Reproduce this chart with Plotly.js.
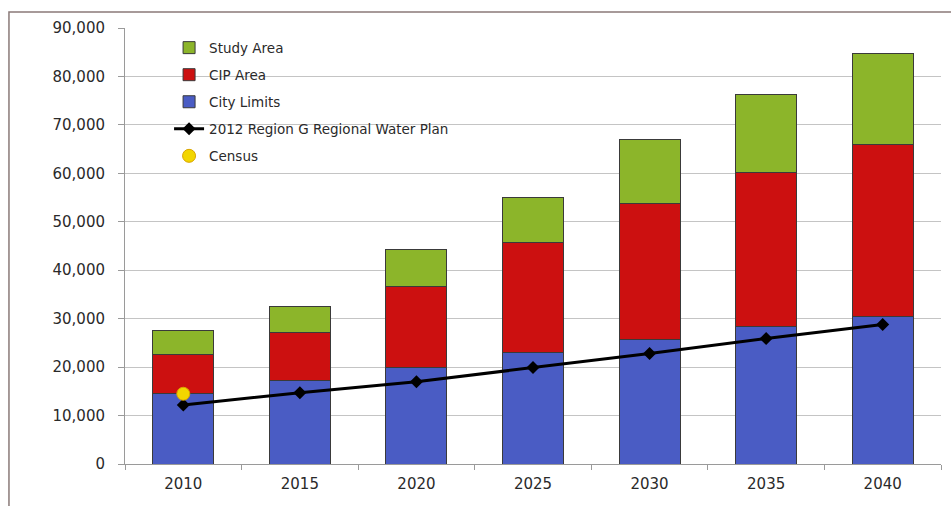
<!DOCTYPE html>
<html>
<head>
<meta charset="utf-8">
<script src="https://cdn.plot.ly/plotly-3.0.1.min.js"></script>
<style>html,body{margin:0;padding:0;background:#fff;}#chart{width:951px;height:506px;}</style>
</head>
<body>
<div id="chart"></div>
<script>
const years = ["2010", "2015", "2020", "2025", "2030", "2035", "2040"];
const cityLimits = [14500, 17200, 19900, 23000, 25700, 28400, 30450];
const cipArea = [8100, 9900, 16750, 22750, 28100, 31850, 35600];
const studyArea = [4950, 5400, 7650, 9300, 13100, 15950, 18650];
const regionGPlan = [12200, 14700, 17000, 19900, 22800, 25900, 28800];
const censusYears = ["2010"];
const censusValues = [14500];
const yTickVals = [0, 10000, 20000, 30000, 40000, 50000, 60000, 70000, 80000, 90000];

const font = "DejaVu Sans, Verdana, sans-serif";
const barLine = {color: "#3a3a3a", width: 1};

const traces = [
  {type: "bar", name: "City Limits", x: years, y: cityLimits, legendrank: 3, legendgroup: "c",
   marker: {color: "#4a5cc4", line: barLine}},
  {type: "bar", name: "CIP Area", x: years, y: cipArea, legendrank: 2, legendgroup: "b",
   marker: {color: "#cc1010", line: barLine}},
  {type: "bar", name: "Study Area", x: years, y: studyArea, legendrank: 1, legendgroup: "a",
   marker: {color: "#8cb52a", line: barLine}},
  {type: "scatter", mode: "lines+markers", name: "2012 Region G Regional Water Plan", x: years, y: regionGPlan,
   legendrank: 4, legendgroup: "d",
   line: {color: "#000", width: 3}, marker: {symbol: "diamond", size: 10, color: "#000"}},
  {type: "scatter", mode: "markers", name: "Census", x: censusYears, y: censusValues,
   legendrank: 5, legendgroup: "e",
   marker: {symbol: "circle", size: 13, color: "#f2d600", line: {color: "#d9a400", width: 1}}}
];

const layout = {
  width: 951, height: 506,
  margin: {l: 125, r: 10, t: 28, b: 42},
  paper_bgcolor: "#fff", plot_bgcolor: "#fff",
  barmode: "stack", bargap: 0.477,
  showlegend: true,
  legend: {x: 0.054, xanchor: "left", y: 0.99, yanchor: "top", traceorder: "grouped",
           tracegroupgap: 6.5, bgcolor: "rgba(0,0,0,0)",
           font: {family: font, size: 13.5, color: "#2a2a2a"}},
  font: {family: font, color: "#2a2a2a"},
  xaxis: {type: "category", showline: true, linecolor: "#9a9a9a", linewidth: 1,
          ticks: "outside", tickson: "boundaries", ticklen: 5, tickcolor: "#9a9a9a",
          ticklabelstandoff: 6,
          tickfont: {family: font, size: 15, color: "#2a2a2a"}, showgrid: false, fixedrange: true},
  yaxis: {range: [0, 90000], tickvals: yTickVals, tickformat: ",d",
          showline: true, linecolor: "#9a9a9a", linewidth: 1,
          ticks: "outside", ticklen: 6, tickcolor: "#9a9a9a",
          ticklabelstandoff: 10,
          showgrid: true, gridcolor: "#c4c4c4", gridwidth: 1, zeroline: false,
          tickfont: {family: font, size: 15, color: "#2a2a2a"}, fixedrange: true},
  shapes: [
    {type: "rect", xref: "paper", yref: "paper", x0: -0.1422, x1: 1.2, y0: -0.3, y1: 1.0367,
     line: {color: "#8a7a78", width: 1.5}, fillcolor: "rgba(0,0,0,0)", layer: "below"}
  ]
};

Plotly.newPlot("chart", traces, layout, {displayModeBar: false, staticPlot: true});
</script>
</body>
</html>
